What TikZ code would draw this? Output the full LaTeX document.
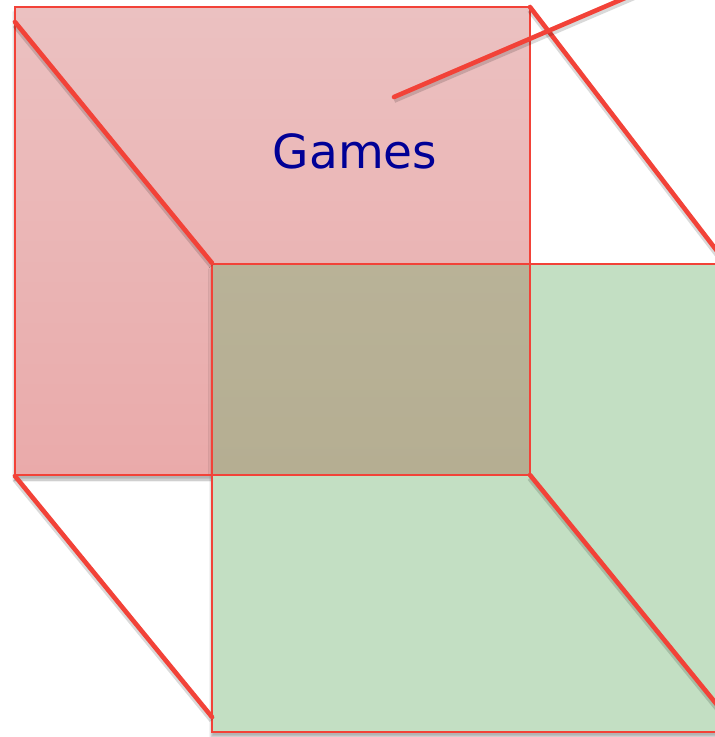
\documentclass[tikz,border=0pt]{standalone}
\usepackage{fontspec}
\setmainfont{DejaVu Sans}
\usetikzlibrary{shadows.blur}
\definecolor{edge}{RGB}{242,66,56}
\definecolor{redtop}{RGB}{235,193,193}
\definecolor{redbot}{RGB}{234,170,170}
\definecolor{grn}{RGB}{195,223,195}
\definecolor{olive}{RGB}{181,174,146}
\definecolor{txt}{RGB}{0,0,150}
\tikzset{
  pane/.style={blur shadow={shadow xshift=-1pt, shadow yshift=-5pt, shadow blur steps=6, shadow opacity=30}},
  rim/.style={draw=edge, line width=1.3pt},
  bar/.style={draw=edge, line width=4.6pt, line cap=round,
    preaction={draw=black, opacity=0.15, line width=6pt, transform canvas={xshift=0pt, yshift=-3pt}}},
  lab/.style={text=txt, font=\fontsize{47}{56}\selectfont, anchor=base, inner sep=0pt}
}
\begin{document}
\begin{tikzpicture}[x=1pt,y=1pt]
\useasboundingbox (0,0) rectangle (715,-737);
\clip (0,0) rectangle (715,-737);
% corners
\coordinate (R1) at (15,-7);
\coordinate (R3) at (530,-475);
\coordinate (G1) at (212,-264);
\coordinate (G3) at (727,-732);
\coordinate (a1) at (15,-22);   \coordinate (a2) at (212,-263);
\coordinate (b1) at (530,-7);   \coordinate (b2) at (727,-264);
\coordinate (c1) at (15,-476);  \coordinate (c2) at (212,-717);
\coordinate (d1) at (530,-475); \coordinate (d2) at (727,-717);
\coordinate (p1) at (394,-97);  \coordinate (p2) at (660,17);
% panes
\path[pane, top color=redtop, bottom color=redbot] (R1) rectangle (R3);
\path[pane, fill=grn] (G1) rectangle (G3);
\path[top color=olive!95!white, bottom color=olive] (G1) rectangle (R3);
\draw[rim] (R1) rectangle (R3);
\draw[rim] (G1) rectangle (G3);
% edges of the cube
\draw[bar] (a1) -- (a2);
\draw[bar] (b1) -- (b2);
\draw[bar] (c1) -- (c2);
\draw[bar] (d1) -- (d2);
\draw[bar] (p1) -- (p2);
\node[lab] (games) at (355,-168) {Games};
\end{tikzpicture}
\end{document}
